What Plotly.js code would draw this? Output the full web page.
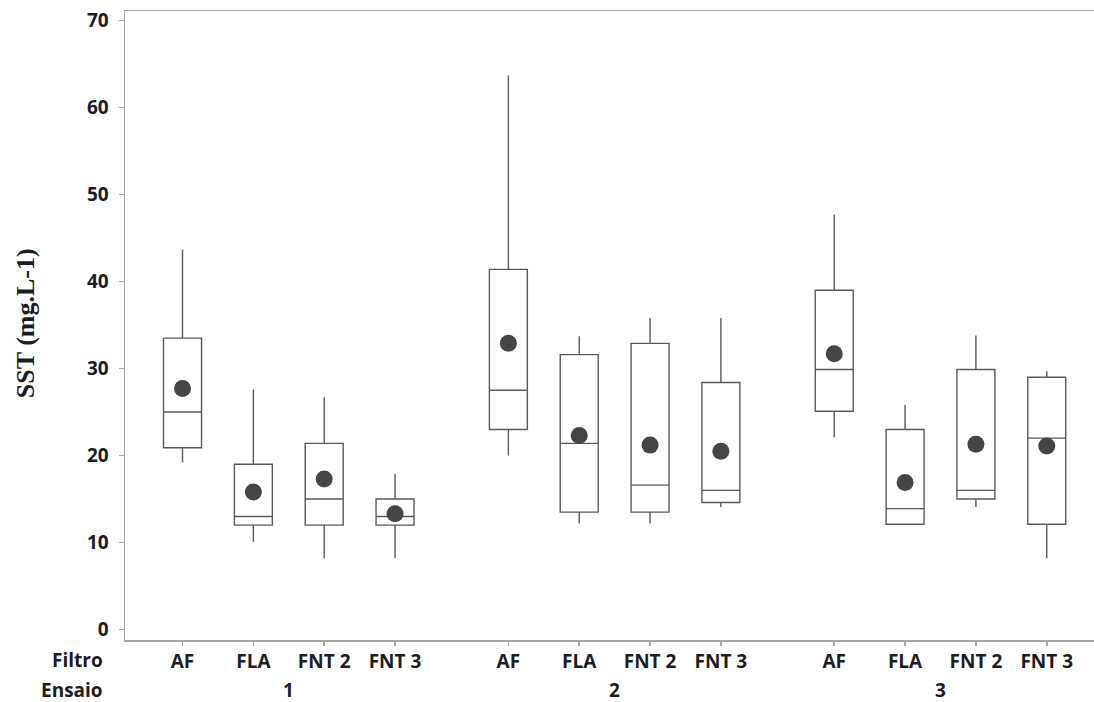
<!DOCTYPE html>
<html>
<head>
<meta charset="utf-8">
<script src="https://cdn.plot.ly/plotly-3.0.1.min.js"></script>
<style>html,body{margin:0;padding:0;background:#fff;}#chart{width:1094px;height:702px;}</style>
</head>
<body>
<div id="chart"></div>
<script>
// Data
const ensaios = ["1", "2", "3"];
const filtros = ["AF", "FLA", "FNT 2", "FNT 3"];
// order: ensaio 1 (AF, FLA, FNT 2, FNT 3), ensaio 2 (...), ensaio 3 (...)
const upperWhisker = [43.7, 27.6, 26.7, 17.9,   63.7, 33.7, 35.8, 35.8,   47.7, 25.8, 33.8, 29.7];
const q3           = [33.5, 19.0, 21.4, 15.0,   41.4, 31.6, 32.9, 28.4,   39.0, 23.0, 29.9, 29.0];
const medians      = [25.0, 13.0, 15.0, 13.0,   27.5, 21.4, 16.6, 16.0,   29.9, 13.9, 16.0, 22.0];
const q1           = [20.9, 12.0, 12.0, 12.0,   23.0, 13.5, 13.5, 14.6,   25.1, 12.1, 15.0, 12.1];
const lowerWhisker = [19.2, 10.1,  8.2,  8.2,   20.0, 12.2, 12.2, 14.1,   22.1, 12.1, 14.1,  8.2];
const means        = [27.7, 15.8, 17.3, 13.3,   32.9, 22.3, 21.2, 20.5,   31.7, 16.9, 21.3, 21.1];
const yTitle = "SST (mg.L-1)";

// Layout of positions (computed, not data)
const groupStep = filtros.length + 0.6;
const xpos = [], tickText = [], groupCenters = [];
ensaios.forEach((e, g) => {
  filtros.forEach((f, i) => {
    xpos.push(g * groupStep + i);
    tickText.push(f);
  });
  groupCenters.push(g * groupStep + (filtros.length - 1) / 2);
});

const textColor = '#1c1c24';
const tickFont = {family: 'Open Sans, sans-serif', size: 19, color: textColor, weight: 'bold'};

const boxTrace = {
  type: 'box',
  x: xpos,
  q1: q1,
  median: medians,
  q3: q3,
  lowerfence: lowerWhisker,
  upperfence: upperWhisker,
  width: 0.536,
  whiskerwidth: 0,
  boxpoints: false,
  fillcolor: 'rgba(255,255,255,0)',
  line: {color: '#5a5a5a', width: 1.4},
  hoverinfo: 'skip',
  showlegend: false
};

const meanTrace = {
  type: 'scatter',
  mode: 'markers',
  x: xpos,
  y: means,
  marker: {color: '#454545', size: 17, line: {width: 0}},
  hoverinfo: 'skip',
  showlegend: false
};

const annotations = [
  {xref: 'paper', yref: 'paper', x: -0.0205, y: -0.0318, xanchor: 'right', yanchor: 'middle',
   text: '<b>Filtro</b>', showarrow: false, font: tickFont},
  {xref: 'paper', yref: 'paper', x: -0.0205, y: -0.0795, xanchor: 'right', yanchor: 'middle',
   text: '<b>Ensaio</b>', showarrow: false, font: tickFont},
  {xref: 'paper', yref: 'paper', x: -0.102, y: 0.504, xanchor: 'center', yanchor: 'middle',
   textangle: -90, text: '<b>' + yTitle + '</b>', showarrow: false,
   font: {family: 'Liberation Serif, Times New Roman, serif', size: 26, color: textColor}}
];
groupCenters.forEach((c, g) => {
  annotations.push({xref: 'x', yref: 'paper', x: c, y: -0.0795, xanchor: 'center', yanchor: 'middle',
    text: '<b>' + ensaios[g] + '</b>', showarrow: false, font: tickFont});
});

const layout = {
  width: 1094,
  height: 702,
  margin: {l: 125, r: 0, t: 11, b: 62, pad: 0},
  paper_bgcolor: '#ffffff',
  plot_bgcolor: '#ffffff',
  showlegend: false,
  xaxis: {
    range: [-0.812, 12.867],
    tickmode: 'array',
    tickvals: xpos,
    ticktext: tickText,
    ticks: 'outside',
    ticklen: 4,
    tickwidth: 1.5,
    tickcolor: '#a6a6a6',
    tickfont: tickFont,
    showline: true,
    linecolor: '#a6a6a6',
    linewidth: 1.5,
    mirror: true,
    showgrid: false,
    zeroline: false,
    fixedrange: true
  },
  yaxis: {
    range: [-1.2, 71.1],
    tickmode: 'array',
    tickvals: [0, 10, 20, 30, 40, 50, 60, 70],
    ticks: 'outside',
    ticklen: 5,
    tickwidth: 1.5,
    tickcolor: '#a6a6a6',
    tickfont: tickFont,
    ticklabelstandoff: 6,
    showline: true,
    linecolor: '#a6a6a6',
    linewidth: 1.5,
    showgrid: false,
    zeroline: false,
    fixedrange: true
  },
  annotations: annotations
};

Plotly.newPlot('chart', [boxTrace, meanTrace], layout, {displayModeBar: false, staticPlot: true});
</script>
</body>
</html>
